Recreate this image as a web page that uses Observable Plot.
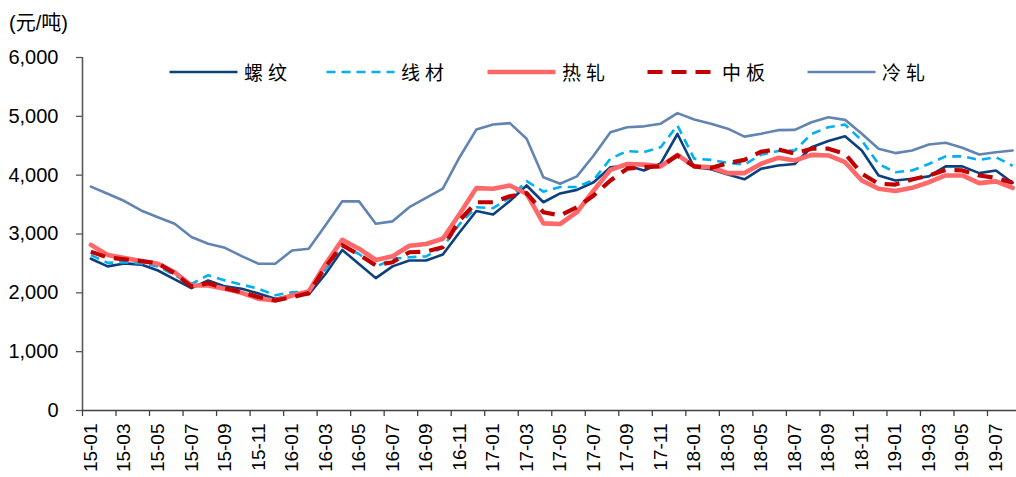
<!DOCTYPE html>
<html>
<head>
<meta charset="utf-8">
<script src="https://cdn.jsdelivr.net/npm/d3@7"></script>
<script src="https://cdn.jsdelivr.net/npm/@observablehq/plot@0.6"></script>
<style>
  body { margin: 0; background: #fff; }
  #wrap { position: relative; width: 1016px; height: 477px; overflow: hidden; }
  .unit { position: absolute; left: 9px; top: 7px; font-size: 20px; font-family: "Liberation Sans", "Noto Sans CJK SC", sans-serif; color: #000; }
  .lg { position: absolute; top: 61px; height: 22px; display: flex; align-items: center; }
  .lg svg { display: block; }
  .lg span { margin-left: 6px; font-size: 19px; letter-spacing: 5px; font-family: "Noto Sans CJK SC", sans-serif; color: #000; line-height: 22px; }
</style>
</head>
<body>
<div id="wrap"></div>
<script>
const months = ["15-01","15-02","15-03","15-04","15-05","15-06","15-07","15-08","15-09","15-10","15-11","15-12",
  "16-01","16-02","16-03","16-04","16-05","16-06","16-07","16-08","16-09","16-10","16-11","16-12",
  "17-01","17-02","17-03","17-04","17-05","17-06","17-07","17-08","17-09","17-10","17-11","17-12",
  "18-01","18-02","18-03","18-04","18-05","18-06","18-07","18-08","18-09","18-10","18-11","18-12",
  "19-01","19-02","19-03","19-04","19-05","19-06","19-07","19-08"];

const rebar = [2580,2450,2500,2480,2380,2230,2080,2210,2110,2070,1990,1900,
  1955,1975,2320,2730,2490,2250,2450,2550,2550,2650,3030,3390,
  3330,3560,3825,3540,3690,3750,3880,4135,4165,4080,4200,4700,
  4135,4100,4010,3930,4110,4165,4190,4475,4580,4660,4420,3995,
  3910,3940,3980,4150,4150,4035,4080,3870];

const wireRod = [2640,2510,2520,2500,2450,2300,2150,2300,2210,2140,2070,1960,
  2010,2020,2400,2800,2660,2440,2580,2605,2620,2775,3170,3455,
  3440,3615,3900,3720,3800,3800,3920,4280,4410,4390,4475,4845,
  4280,4260,4210,4180,4350,4410,4420,4700,4815,4860,4590,4190,
  4050,4080,4190,4320,4320,4260,4305,4160];

const hotRolled = [2815,2645,2590,2540,2495,2350,2125,2125,2070,2000,1900,1870,
  1955,2025,2490,2900,2750,2560,2620,2800,2830,2920,3340,3780,
  3770,3825,3685,3180,3170,3370,3740,4090,4190,4180,4150,4345,
  4150,4135,4035,4035,4195,4295,4250,4345,4335,4220,3910,3770,
  3730,3785,3880,3995,3995,3865,3895,3785];

const plate = [2700,2600,2570,2540,2505,2330,2110,2165,2080,2010,1930,1870,
  1925,1995,2440,2810,2650,2470,2520,2690,2700,2775,3230,3540,
  3540,3640,3695,3370,3315,3455,3655,3910,4110,4135,4150,4335,
  4150,4120,4205,4260,4400,4440,4365,4450,4450,4365,4025,3855,
  3840,3925,3995,4090,4080,3995,3955,3870];

const coldRolled = [3805,3685,3560,3400,3285,3175,2950,2835,2765,2625,2495,2495,
  2720,2750,3150,3555,3555,3175,3215,3455,3615,3770,4305,4775,
  4860,4885,4620,3965,3855,3980,4335,4730,4815,4830,4875,5055,
  4945,4875,4790,4655,4705,4765,4770,4900,4985,4940,4705,4450,
  4375,4420,4520,4550,4465,4350,4390,4420];

const seriesNames = ["螺纹","线材","热轧","中板","冷轧"];
const yTicks = [0,1000,2000,3000,4000,5000,6000];

const seriesData = [rebar, wireRod, hotRolled, plate, coldRolled];
const styles = [
  {stroke: "#0b3f7e", strokeWidth: 2.6},
  {stroke: "#00b0f0", strokeWidth: 2.6, strokeDasharray: "9,6", strokeLinecap: "butt"},
  {stroke: "#ff6868", strokeWidth: 4.6},
  {stroke: "#c00000", strokeWidth: 4.2, strokeDasharray: "15,9", strokeLinecap: "butt"},
  {stroke: "#6184b2", strokeWidth: 2.6}
];

const rows = seriesData.map(arr => arr.map((v, i) => ({i: i + 0.5, v})));
const boundaryTicks = d3.range(0, months.length, 2);
const labelTicks = d3.range(0, months.length, 2).map(i => i + 0.5);

const chart = Plot.plot({
  width: 1016,
  height: 477,
  marginLeft: 82,
  marginRight: 0,
  marginTop: 57,
  marginBottom: 67,
  style: {fontFamily: "'Liberation Sans', Arial, sans-serif", fontSize: "20px", color: "#000", background: "#fff"},
  x: {domain: [0, 55.73], axis: null},
  y: {domain: [0, 6000], axis: null},
  marks: [
    Plot.axisY({ticks: yTicks, tickSize: 6, tickPadding: 18, tickFormat: d3.format(","), label: null, stroke: "#595959", strokeWidth: 1.3, fontSize: 20}),
    Plot.axisX({ticks: boundaryTicks, tickSize: 6, tickFormat: () => "", label: null, stroke: "#404040", strokeWidth: 1.3}),
    Plot.axisX({ticks: labelTicks, tickSize: 0, tickPadding: 13, tickRotate: -90, label: null, tickFormat: d => months[Math.round(d - 0.5)], fontSize: 19}),
    Plot.ruleX([0], {stroke: "#595959", strokeWidth: 1.6}),
    Plot.ruleY([0], {stroke: "#404040", strokeWidth: 1.3}),
    ...rows.map((r, k) => Plot.line(r, {x: "i", y: "v", strokeLinejoin: "round", strokeLinecap: "round", ...styles[k]}))
  ]
});

const wrap = document.getElementById("wrap");
wrap.appendChild(chart);

const unit = document.createElement("div");
unit.className = "unit";
unit.textContent = "(元/吨)";
wrap.appendChild(unit);

const legendLeft = [169, 326, 487, 647, 807];
seriesNames.forEach((name, k) => {
  const s = styles[k];
  const item = document.createElement("div");
  item.className = "lg";
  item.style.left = legendLeft[k] + "px";
  item.innerHTML = `<svg width="69" height="12"><line x1="0.5" y1="6" x2="68.5" y2="6" stroke="${s.stroke}" stroke-width="${s.strokeWidth}" ${s.strokeDasharray ? `stroke-dasharray="${s.strokeDasharray}"` : ""} stroke-linecap="butt"/></svg><span>${name}</span>`;
  wrap.appendChild(item);
});
</script>
</body>
</html>
